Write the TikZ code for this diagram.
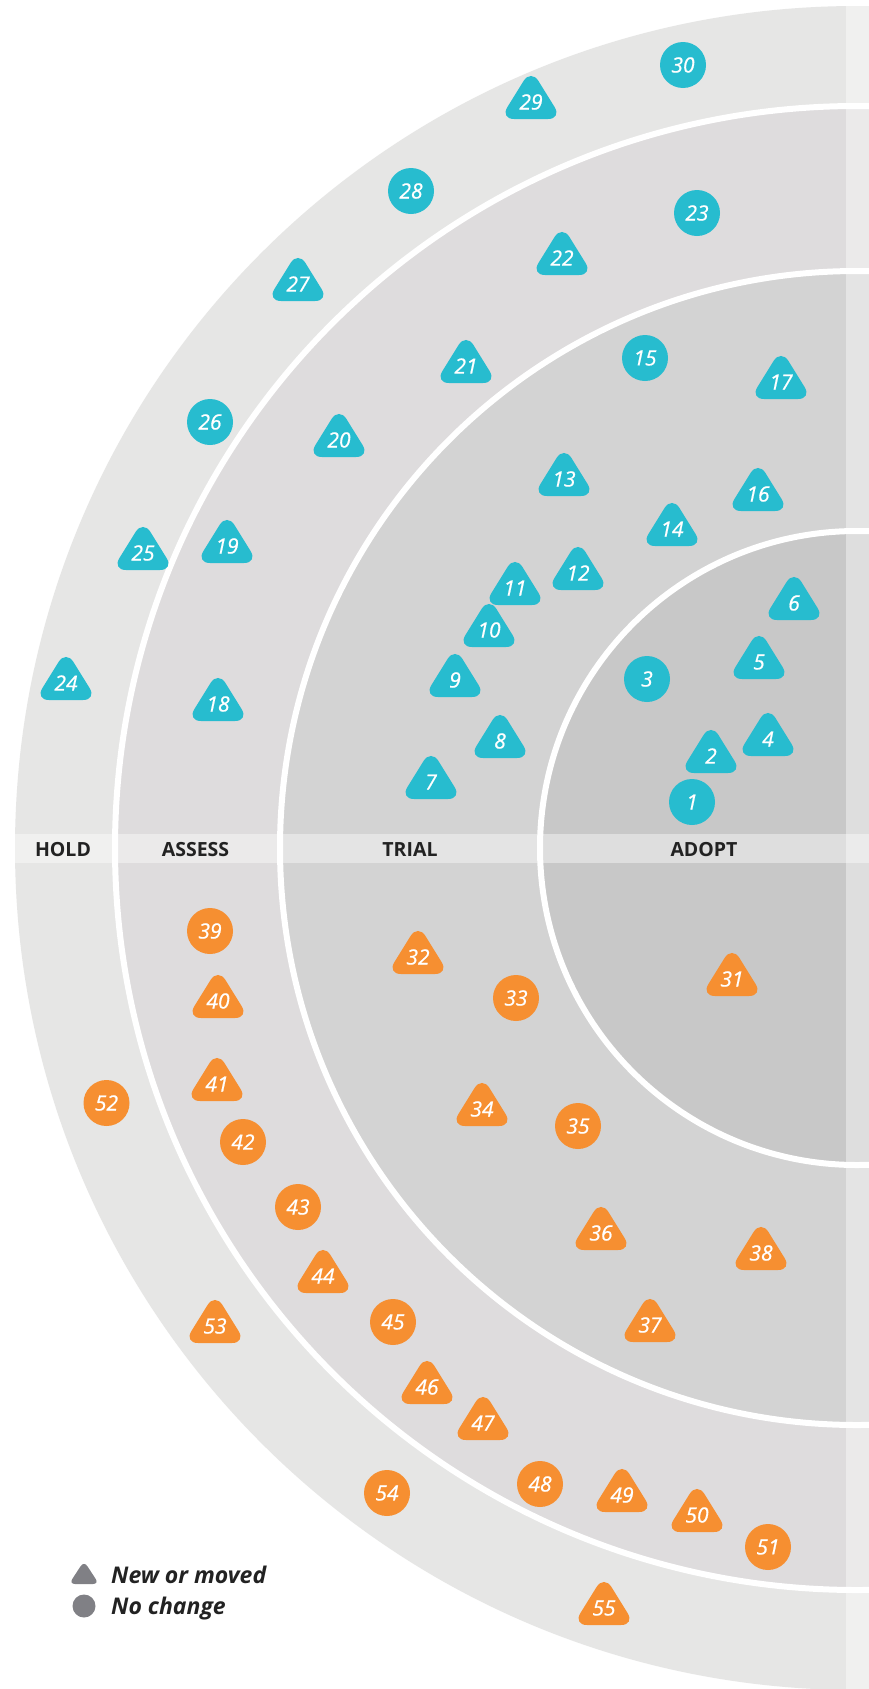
\documentclass[tikz,border=0pt]{standalone}
\usepackage{fontspec}
\setmainfont{Open Sans}
\newfontfamily\numfont{Open Sans}[ItalicFeatures={FakeBold=0.8}]
\definecolor{holdc}{HTML}{E6E6E5}
\definecolor{assessc}{HTML}{DEDCDD}
\definecolor{trialc}{HTML}{D3D3D3}
\definecolor{adoptc}{HTML}{C8C8C8}
\definecolor{teal}{HTML}{27BCCF}
\definecolor{orng}{HTML}{F68F31}
\definecolor{legc}{HTML}{808085}
\definecolor{labc}{HTML}{222222}
\tikzset{
  num/.style={text=white,inner sep=0pt,font=\numfont\fontsize{21}{21}\selectfont\itshape},
  ringlabel/.style={text=labc,inner sep=0pt,anchor=base,font=\fontsize{19.5}{20}\selectfont\bfseries},
  legtext/.style={text=labc,inner sep=0pt,anchor=base west,font=\fontsize{23}{23}\selectfont\bfseries\itshape},
  ringline/.style={draw=white,line width=6pt}
}
\newcommand{\bliptri}[4]{%
  \fill[#1,rounded corners=14pt] (#2,#3+17) -- (#2+31,#3+17) -- (#2,#3-33) -- (#2-31,#3+17) -- cycle;
  \node[num] (b#4) at (#2,#3) {#4};}
\newcommand{\blipcirc}[4]{%
  \fill[#1] (#2,#3) circle (23);
  \node[num] (b#4) at (#2,#3) {#4};}
\begin{document}
\begin{tikzpicture}[x=1pt,y=-1pt]
\useasboundingbox (0,0) rectangle (869,1689);
\clip (0,0) rectangle (869,1689);
\fill[white] (0,0) rectangle (869,1689);
% rings
\fill[holdc] (857,848) circle (842);
\fill[assessc] (857,848) circle (742);
\fill[trialc] (857,848) circle (577);
\fill[adoptc] (857,848) circle (317);
\draw[ringline] (857,848) circle (742);
\draw[ringline] (857,848) circle (577);
\draw[ringline] (857,848) circle (317);
% overlays
\begin{scope}
\clip (857,848) circle (842);
\fill[white,opacity=0.4] (0,834) rectangle (869,863);
\fill[white,opacity=0.4] (846,0) rectangle (869,1689);
\end{scope}
% ring labels
\node[ringlabel] (hold) at (63,856) {HOLD};
\node[ringlabel] (assess) at (195.5,856) {ASSESS};
\node[ringlabel] (trial) at (410,856) {TRIAL};
\node[ringlabel] (adopt) at (704,856) {ADOPT};
% teal blips
\blipcirc{teal}{692}{802}{1}
\bliptri{teal}{711}{756}{2}
\blipcirc{teal}{647}{679}{3}
\bliptri{teal}{768}{739}{4}
\bliptri{teal}{759}{662}{5}
\bliptri{teal}{794}{603}{6}
\bliptri{teal}{431}{782}{7}
\bliptri{teal}{500}{741}{8}
\bliptri{teal}{455}{680}{9}
\bliptri{teal}{489}{630}{10}
\bliptri{teal}{515}{588}{11}
\bliptri{teal}{578}{573}{12}
\bliptri{teal}{564}{479}{13}
\bliptri{teal}{672}{529}{14}
\blipcirc{teal}{645}{358}{15}
\bliptri{teal}{758}{494}{16}
\bliptri{teal}{781}{382}{17}
\bliptri{teal}{218}{704}{18}
\bliptri{teal}{227}{546}{19}
\bliptri{teal}{339}{440}{20}
\bliptri{teal}{466}{366}{21}
\bliptri{teal}{562}{258}{22}
\blipcirc{teal}{697}{213}{23}
\bliptri{teal}{66}{683}{24}
\bliptri{teal}{143}{553}{25}
\blipcirc{teal}{210}{422}{26}
\bliptri{teal}{298}{284}{27}
\blipcirc{teal}{411}{191}{28}
\bliptri{teal}{531}{102}{29}
\blipcirc{teal}{683}{65}{30}
% orange blips
\bliptri{orng}{732}{979}{31}
\bliptri{orng}{418}{957}{32}
\blipcirc{orng}{516}{998}{33}
\bliptri{orng}{482}{1109}{34}
\blipcirc{orng}{578}{1126}{35}
\bliptri{orng}{601}{1233}{36}
\bliptri{orng}{650}{1325}{37}
\bliptri{orng}{761}{1253}{38}
\blipcirc{orng}{210}{931}{39}
\bliptri{orng}{218}{1001}{40}
\bliptri{orng}{217}{1084}{41}
\blipcirc{orng}{243}{1142}{42}
\blipcirc{orng}{298}{1207}{43}
\bliptri{orng}{323}{1276}{44}
\blipcirc{orng}{393}{1322}{45}
\bliptri{orng}{427}{1387}{46}
\bliptri{orng}{483}{1423}{47}
\blipcirc{orng}{540}{1484}{48}
\bliptri{orng}{622}{1495}{49}
\bliptri{orng}{697}{1515}{50}
\blipcirc{orng}{768}{1547}{51}
\blipcirc{orng}{106.5}{1103}{52}
\bliptri{orng}{215}{1326}{53}
\blipcirc{orng}{387}{1493}{54}
\bliptri{orng}{604}{1608}{55}
% legend
\fill[legc,rounded corners=6pt] (84,1584) -- (99,1584) -- (84,1561) -- (69,1584) -- cycle;
\fill[legc] (84,1606) circle (11.5);
\node[legtext] (lnew) at (111,1583) {New or moved};
\node[legtext] (lnc) at (111,1614) {No change};
\end{tikzpicture}
\end{document}
